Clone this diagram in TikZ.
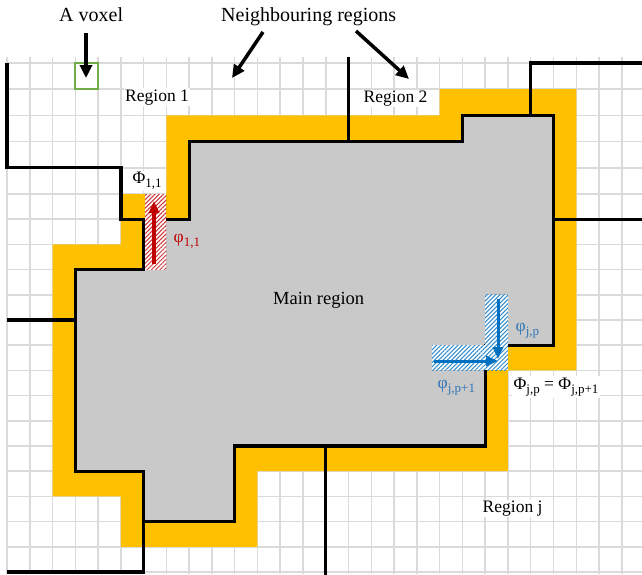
\documentclass[tikz,border=0pt]{standalone}
\usepackage{fontspec}
\setmainfont{Liberation Serif}
\usetikzlibrary{arrows.meta,patterns.meta}
\definecolor{gridc}{HTML}{DADADA}
\definecolor{bandc}{HTML}{FFC000}
\definecolor{mainc}{HTML}{C9C9C9}
\definecolor{voxc}{HTML}{70AD47}
\definecolor{redc}{HTML}{C00000}
\definecolor{bluec}{HTML}{0070C0}
\definecolor{bluel}{HTML}{2E75B6}
\newcommand\G[2]{({gx(#1)},{gy(#2)})}
\newcommand\sbs[1]{\raisebox{-4pt}{\fontsize{13}{13}\selectfont #1}}
\begin{document}
\begin{tikzpicture}[x=1pt,y=-1pt,
  declare function={gx(\i)=7+22.77*\i; gy(\k)=ifthenelse(\k<5.5,63+26.2*\k,194+25.2*(\k-5));},
  gridl/.style={draw=gridc,line width=1.5pt},
  bnd/.style={draw=black,line width=3.3pt,line join=miter},
  lbl/.style={inner sep=1pt,font=\fontsize{17.5}{20}\selectfont},
  wlbl/.style={lbl,fill=white},
  toplbl/.style={inner sep=0pt,font=\fontsize{20}{24}\selectfont},
  blackarrow/.style={draw=black,line width=3.5pt,-{Triangle[length=13pt,width=12pt]}},
  redhatch/.style={preaction={fill=white},pattern={Lines[angle=45,distance=3pt,line width=1pt]},pattern color=redc!80},
  bluehatch/.style={preaction={fill=white},pattern={Lines[angle=45,distance=3pt,line width=1pt]},pattern color=bluec!80},
]
\useasboundingbox (0,0) rectangle (642,574);
% grid
\foreach \i in {0,...,28} \draw[gridl] ({gx(\i)},57) -- ({gx(\i)},574);
\foreach \k in {0,...,20} \draw[gridl] (7,{gy(\k)}) -- (642,{gy(\k)});
% yellow layer of neighbouring voxels
\fill[bandc] \G{7}{2} -- \G{19}{2} -- \G{19}{1} -- \G{25}{1} -- \G{25}{12} -- \G{22}{12}
  -- \G{22}{16} -- \G{11}{16} -- \G{11}{19} -- \G{5}{19} -- \G{5}{17} -- \G{2}{17}
  -- \G{2}{7} -- \G{5}{7} -- \G{5}{5} -- \G{7}{5} -- cycle;
% main region
\path[bnd,fill=mainc] \G{8}{3} -- \G{20}{3} -- \G{20}{2} -- \G{24}{2} -- \G{24}{11}
  -- \G{21}{11} -- \G{21}{15} -- \G{10}{15} -- \G{10}{18} -- \G{6}{18} -- \G{6}{16}
  -- \G{3}{16} -- \G{3}{8} -- \G{6}{8} -- \G{6}{6} -- \G{8}{6} -- cycle;
% region boundaries
\draw[bnd] \G{0}{0} -- \G{0}{4} -- \G{5}{4} -- \G{5}{6} -- \G{6}{6};
\draw[bnd] ({gx(15)},57) -- \G{15}{3};
\draw[bnd] \G{23}{2} -- \G{23}{0} -- (645,{gy(0)});
\draw[bnd] \G{24}{6} -- (645,{gy(6)});
\draw[bnd] \G{0}{10} -- \G{3}{10};
\draw[bnd] \G{0}{20} -- \G{6}{20} -- \G{6}{18};
\draw[bnd] \G{14}{15} -- ({gx(14)},576);
% a voxel
\draw[draw=voxc,line width=2pt] \G{3}{0} rectangle \G{4}{1};
% hatched voxels
\path[redhatch] (145,{gy(5)}) rectangle ({gx(7)},{gy(8)});
\path[bluehatch] ({gx(21)},{gy(9)}) rectangle ({gx(22)},{gy(12)});
\path[bluehatch] (432,{gy(11)}) rectangle ({gx(22)},{gy(12)});
% flux arrows
\coordinate (r0) at (154,264);
\coordinate (r1) at (154,201);
\draw[draw=redc,line width=3.5pt,-{Triangle[length=12pt,width=10pt]}] (r0) -- (r1);
\coordinate (b0) at (498,299);
\coordinate (b1) at (498,359);
\draw[draw=bluec,line width=3pt,-{Triangle[length=12pt,width=10pt]}] (b0) -- (b1);
\coordinate (c0) at (434,361);
\coordinate (c1) at (498,361);
\draw[draw=bluec,line width=3pt,-{Triangle[length=12pt,width=10pt]}] (c0) -- (c1);
% top labels and arrows
\node[toplbl,anchor=base west] (voxt) at (59,21.5) {A voxel};
\node[toplbl,anchor=base west] (nbt) at (221,21.5) {Neighbouring regions};
\coordinate (va) at (86,33);
\coordinate (vb) at (86,78);
\draw[blackarrow] (va) -- (vb);
\coordinate (na) at (263,32);
\coordinate (nb) at (232,78);
\draw[blackarrow] (na) -- (nb);
\coordinate (ma) at (356,31);
\coordinate (mb) at (409,79);
\draw[blackarrow] (ma) -- (mb);
% region labels
\node[wlbl,anchor=base west] (r1t) at (124,101) {Region 1};
\node[wlbl,anchor=base west] (r2t) at (362.5,102.5) {Region 2};
\node[lbl,anchor=base west,font=\fontsize{18.5}{22}\selectfont] (mt) at (272,304) {Main region};
\node[wlbl,anchor=base west] (rjt) at (481.5,512.5) {Region j};
% flux labels
\node[lbl,fill=white,anchor=base west,inner sep=1.5pt] (P11) at (131,183.5) {Φ\sbs{1,1}};
\node[lbl,text=redc,anchor=base west] (p11) at (172.5,242.5) {φ\sbs{1,1}};
\node[lbl,text=bluel,anchor=base west] (pjp) at (514.5,331) {φ\sbs{j,p}};
\node[lbl,text=bluel,anchor=base west] (pjp1) at (436.5,388) {φ\sbs{j,p+1}};
\node[lbl,fill=white,anchor=base west,inner sep=2pt] (Pjp) at (511.5,389) {Φ\sbs{j,p} = Φ\sbs{j,p+1}};
\end{tikzpicture}
\end{document}
